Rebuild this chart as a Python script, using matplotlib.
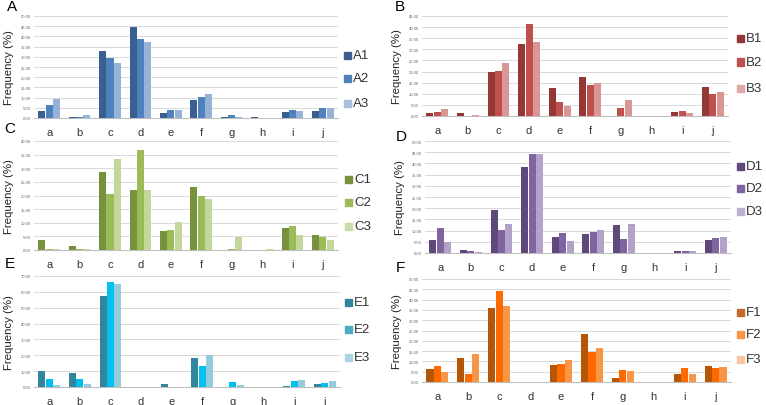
import matplotlib
matplotlib.use("Agg")
import matplotlib.pyplot as plt
from matplotlib.patches import Rectangle
import numpy as np

plt.rcParams['font.family'] = ['Liberation Sans', 'DejaVu Sans']

categories = ['a', 'b', 'c', 'd', 'e', 'f', 'g', 'h', 'i', 'j']

A1 = [3.5, 0.3, 32.7, 44.5, 2.5, 8.7, 0.4, 0.6, 2.8, 3.3]
A2 = [6.5, 0.7, 29.2, 38.5, 3.9, 10.5, 1.5, 0.0, 3.9, 4.8]
A3 = [9.5, 1.5, 27.0, 37.2, 3.9, 12.0, 0.4, 0.0, 3.4, 4.8]

B1 = [1.2, 1.3, 19.6, 32.2, 12.4, 17.7, 0.2, 0.0, 2.0, 13.2]
B2 = [2.0, 0.0, 20.2, 41.2, 6.5, 14.0, 3.5, 0.0, 2.1, 10.1]
B3 = [3.2, 0.5, 24.0, 33.5, 4.3, 15.0, 7.0, 0.0, 1.3, 10.7]

C1 = [3.8, 1.3, 28.8, 21.9, 6.9, 23.2, 0.0, 0.0, 8.1, 5.5]
C2 = [0.4, 0.4, 20.6, 36.8, 7.3, 19.9, 0.4, 0.0, 8.7, 4.8]
C3 = [0.4, 0.4, 33.3, 22.1, 10.1, 18.6, 4.9, 0.3, 5.4, 3.7]

D1 = [5.6, 1.2, 19.0, 38.5, 7.2, 8.4, 12.3, 0.0, 0.9, 6.0]
D2 = [11.2, 1.0, 10.3, 44.0, 8.9, 9.5, 6.1, 0.0, 1.1, 6.7]
D3 = [4.7, 0.3, 13.1, 44.0, 5.4, 10.1, 13.0, 0.0, 1.1, 7.2]

E1 = [10.0, 8.9, 57.4, 0.0, 1.9, 18.2, 0.3, 0.0, 0.6, 1.9]
E2 = [5.0, 5.0, 66.4, 0.0, 0.3, 13.4, 3.1, 0.0, 3.6, 2.6]
E3 = [1.5, 2.2, 65.2, 0.0, 0.0, 20.3, 1.0, 0.0, 4.6, 4.0]

F1 = [6.2, 11.6, 35.8, 0.0, 8.3, 23.1, 2.0, 0.0, 3.8, 7.8]
F2 = [7.9, 3.8, 44.4, 0.0, 8.6, 14.7, 5.8, 0.0, 6.9, 6.8]
F3 = [4.7, 13.7, 37.0, 0.0, 10.7, 16.3, 5.1, 0.0, 4.1, 7.4]

W, H = 766, 406
fig = plt.figure(figsize=(W / 100, H / 100), dpi=100)


def fx(x):
    return x / W


def fy(y):
    return 1 - y / H


panels = [
    # letter, series, names, bar colors, legend colors, ymax, step,
    # axes box (l, t, r, b), letter pos, legend x, legend ys
    ('A', [A1, A2, A3], ['A1', 'A2', 'A3'],
     ['#3b5e91', '#4f81bd', '#95b3d7'], ['#3b5e91', '#4f81bd', '#a7bfdf'],
     50, 5, (34, 17, 338, 119), (12, 7), 347, [56, 79, 104]),
    ('B', [B1, B2, B3], ['B1', 'B2', 'B3'],
     ['#953735', '#c0504d', '#d99694'], ['#953735', '#c0504d', '#e0a9a8'],
     45, 5, (422, 17, 728, 117), (400, 7), 740, [39, 63, 89]),
    ('C', [C1, C2, C3], ['C1', 'C2', 'C3'],
     ['#76923c', '#9bbb59', '#c3d69b'], ['#76923c', '#9bbb59', '#c9dbab'],
     40, 5, (34, 142, 338, 251), (10, 129), 348, [180, 203, 227]),
    ('D', [D1, D2, D3], ['D1', 'D2', 'D3'],
     ['#5f497a', '#8064a2', '#b3a2c7'], ['#5f497a', '#8064a2', '#bcb0d0'],
     50, 5, (425, 142, 731, 254), (401, 137), 740, [167, 189, 212]),
    ('E', [E1, E2, E3], ['E1', 'E2', 'E3'],
     ['#31859c', '#00c0f0', '#93cddd'], ['#31859c', '#4bacc6', '#a8d4e2'],
     70, 10, (34, 277, 340, 388), (10, 264), 348, [303, 330, 358]),
    ('F', [F1, F2, F3], ['F1', 'F2', 'F3'],
     ['#b65708', '#ff6a00', '#f79646'], ['#c66a2a', '#f79646', '#fac4a0'],
     50, 5, (422, 280, 731, 383), (400, 268), 740, [313, 335, 360]),
]

x = np.arange(len(categories))
bw = 0.24

for (letter, series, names, cols, lcols, ymax, step, box, lpos, legx, legys) in panels:
    l, t, r, b = box
    ax = fig.add_axes([fx(l), fy(b), fx(r - l), (b - t) / H])
    for k, (vals, c) in enumerate(zip(series, cols)):
        ax.bar(x + (k - 1) * bw, vals, width=bw * 0.96, color=c, zorder=3)
    ax.set_xlim(-0.5, len(categories) - 0.5)
    ax.set_ylim(0, ymax)
    ticks = np.arange(0, ymax + 0.01, step)
    ax.set_yticks(ticks)
    ax.set_yticklabels([f'{v:.2f}' for v in ticks], fontsize=3, color='#666666')
    ax.set_xticks(x)
    ax.set_xticklabels(categories, fontsize=8, color='#333333')
    ax.tick_params(axis='x', length=0, pad=6.5)
    ax.tick_params(axis='y', length=0, pad=2)
    ax.grid(axis='y', color='#d9d9d9', linewidth=0.7, zorder=0)
    for s in ['top', 'right', 'left']:
        ax.spines[s].set_visible(False)
    ax.spines['bottom'].set_color('#bfbfbf')
    ax.spines['bottom'].set_linewidth(0.8)
    ax.set_ylabel('Frequency (%)', fontsize=8.2, color='#222222')
    ax.yaxis.set_label_coords(-20 / (r - l), 0.5)
    fig.text(fx(lpos[0]), fy(lpos[1]), letter, fontsize=11, ha='center', va='center')
    for name, lc, ly in zip(names, lcols, legys):
        fig.patches.append(Rectangle((fx(legx - 3.5), fy(ly + 3.5)), 7 / W, 7 / H,
                                     transform=fig.transFigure, color=lc))
        fig.text(fx(legx + 6), fy(ly), name, fontsize=9.5, color='#333333',
                 ha='left', va='center')

fig.savefig('out.png', dpi=100)
